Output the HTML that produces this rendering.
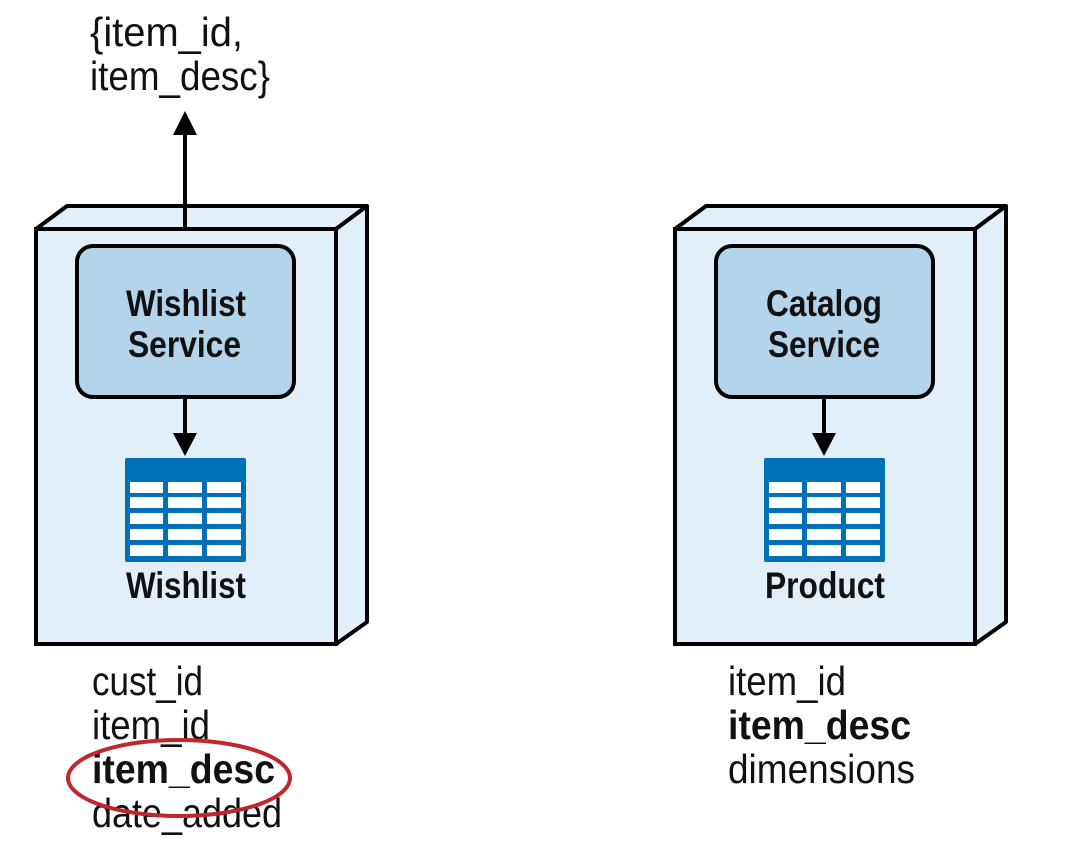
<!DOCTYPE html>
<html><head><meta charset="utf-8"><style>html,body{margin:0;padding:0;background:#fff}svg{display:block}</style></head>
<body>
<svg width="1080" height="863" viewBox="0 0 1080 863" xmlns="http://www.w3.org/2000/svg" font-family="Liberation Sans, sans-serif">
<defs>
<g id="srv">
  <polygon points="36,229 67,206 367,206 336,229" fill="#e2eff8" stroke="#000" stroke-width="4" stroke-linejoin="round"/>
  <polygon points="336,229 367,206 367,622 336,644" fill="#e2eff8" stroke="#000" stroke-width="4" stroke-linejoin="round"/>
  <rect x="36" y="229" width="300" height="415" fill="#e2eff8" stroke="#000" stroke-width="4"/>
  <rect x="77" y="246" width="217" height="151" rx="16" fill="#b3d4ea" stroke="#000" stroke-width="4"/>
  <line x1="185" y1="397" x2="185" y2="436" stroke="#000" stroke-width="4"/>
  <polygon points="173,433 197,433 185,456" fill="#000"/>
  <rect x="125" y="458" width="121" height="104" rx="2" fill="#0070b8"/>
  <g fill="#fff">
    <rect x="130" y="482" width="33" height="11"/><rect x="168" y="482" width="34" height="11"/><rect x="207" y="482" width="34" height="11"/>
    <rect x="130" y="497" width="33" height="11"/><rect x="168" y="497" width="34" height="11"/><rect x="207" y="497" width="34" height="11"/>
    <rect x="130" y="513" width="33" height="11"/><rect x="168" y="513" width="34" height="11"/><rect x="207" y="513" width="34" height="11"/>
    <rect x="130" y="529" width="33" height="11"/><rect x="168" y="529" width="34" height="11"/><rect x="207" y="529" width="34" height="11"/>
    <rect x="130" y="545" width="33" height="11"/><rect x="168" y="545" width="34" height="11"/><rect x="207" y="545" width="34" height="11"/>
  </g>
</g>
</defs>
<use href="#srv"/>
<use href="#srv" transform="translate(639,0)"/>
<g font-weight="bold" font-size="37" fill="#111">
  <text x="126" y="316" textLength="120" lengthAdjust="spacingAndGlyphs">Wishlist</text>
  <text x="128" y="357" textLength="113" lengthAdjust="spacingAndGlyphs">Service</text>
  <text x="126" y="598" textLength="120" lengthAdjust="spacingAndGlyphs">Wishlist</text>
  <text x="766" y="316" textLength="116" lengthAdjust="spacingAndGlyphs">Catalog</text>
  <text x="768" y="357" textLength="112" lengthAdjust="spacingAndGlyphs">Service</text>
  <text x="765" y="598" textLength="120" lengthAdjust="spacingAndGlyphs">Product</text>
</g>
<line x1="185" y1="229" x2="185" y2="132" stroke="#000" stroke-width="4"/>
<polygon points="173,135 197,135 185,111" fill="#000"/>
<g font-size="41" fill="#111">
  <text x="90" y="46" textLength="153" lengthAdjust="spacingAndGlyphs">{item_id,</text>
  <text x="90" y="90" textLength="180" lengthAdjust="spacingAndGlyphs">item_desc}</text>
  <text x="92" y="695" textLength="111" lengthAdjust="spacingAndGlyphs">cust_id</text>
  <text x="92" y="739" textLength="118" lengthAdjust="spacingAndGlyphs">item_id</text>
  <text x="92" y="783" font-weight="bold" textLength="183" lengthAdjust="spacingAndGlyphs">item_desc</text>
  <text x="92" y="827" textLength="190" lengthAdjust="spacingAndGlyphs">date_added</text>
  <text x="728" y="695" textLength="118" lengthAdjust="spacingAndGlyphs">item_id</text>
  <text x="728" y="739" font-weight="bold" textLength="183" lengthAdjust="spacingAndGlyphs">item_desc</text>
  <text x="728" y="783" textLength="187" lengthAdjust="spacingAndGlyphs">dimensions</text>
</g>
<ellipse cx="179" cy="778" rx="111" ry="38" fill="none" stroke="#c0272d" stroke-width="4"/>
</svg>
</body></html>
